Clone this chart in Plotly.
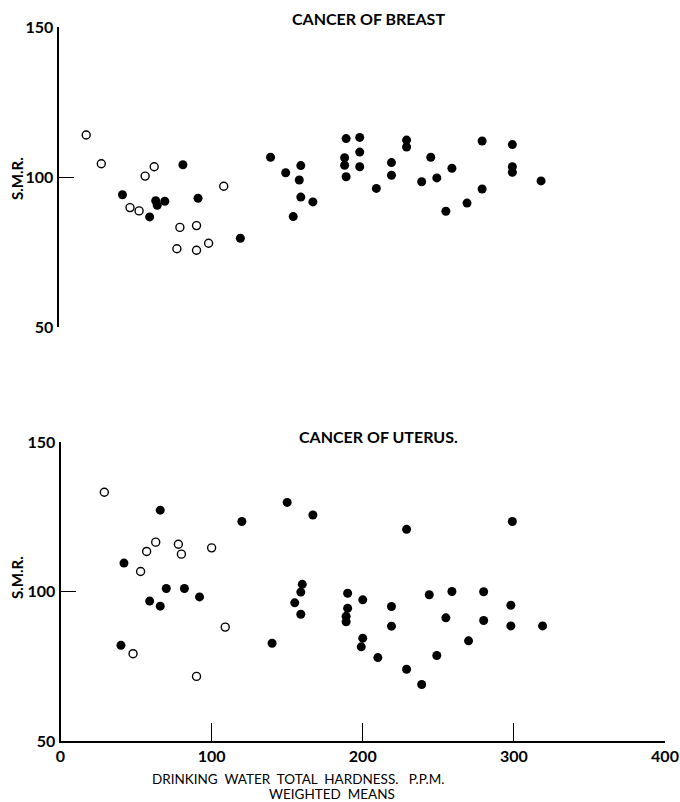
import plotly.graph_objects as go

# ---- data: Cancer of breast ----
breast_open_x = [17, 27, 56, 62, 46, 52, 79, 90, 77, 90, 98, 108]
breast_open_y = [114, 104.4, 100.3, 103.4, 89.8, 88.7, 83.2, 83.8, 76.1, 75.6, 77.9, 96.9]
breast_fill_x = [41, 59, 63, 64, 69, 81, 91, 119, 139, 149, 154, 159, 158, 159, 167,
                 189, 198, 198, 188, 188, 198, 189, 209, 219, 219, 229, 229, 245, 239,
                 249, 259, 255, 269, 279, 279, 299, 299, 299, 318]
breast_fill_y = [94.1, 86.7, 92.1, 90.6, 91.9, 104.1, 92.9, 79.6, 106.6, 101.4, 86.8, 103.8, 99, 93.3, 91.7,
                 112.8, 113.2, 108.3, 106.4, 103.9, 103.4, 100.1, 96.2, 104.8, 100.6, 112.3, 110, 106.6, 98.4,
                 99.7, 102.9, 88.6, 91.3, 112, 96, 110.8, 103.4, 101.6, 98.7]

# ---- data: Cancer of uterus ----
uterus_open_x = [29, 57, 63, 53, 78, 80, 100, 109, 48, 90]
uterus_open_y = [133.2, 113.4, 116.5, 106.7, 115.8, 112.5, 114.6, 88.1, 79.2, 71.6]
uterus_fill_x = [66, 42, 59, 66, 70, 82, 92, 40, 120, 140, 150, 167, 160, 159, 155, 159,
                 190, 190, 189, 189, 200, 200, 199, 210, 219, 219, 229, 229, 239, 244,
                 249, 255, 259, 270, 280, 280, 299, 298, 298, 319]
uterus_fill_y = [127.2, 109.5, 96.8, 95.1, 101, 101, 98.2, 82, 123.4, 82.7, 129.8, 125.6, 102.4, 99.8, 96.2, 92.4,
                 99.4, 94.4, 91.7, 89.9, 97.2, 84.4, 81.5, 77.9, 95, 88.4, 120.8, 74, 68.9, 98.9,
                 78.6, 91.2, 100, 83.5, 99.9, 90.3, 123.4, 95.4, 88.5, 88.5]

x_ticks = [0, 100, 200, 300, 400]
y_ticks = [50, 100, 150]

W, H = 680, 802
FONT = "Lato"

fig = go.Figure()

def add(xs, ys, filled, xa, ya):
    if filled:
        m = dict(size=9, color="black", line=dict(width=0))
    else:
        m = dict(size=8, color="white", line=dict(width=1.4, color="black"))
    fig.add_trace(go.Scatter(x=xs, y=ys, mode="markers", marker=m,
                             xaxis=xa, yaxis=ya, showlegend=False, hoverinfo="skip"))

add(breast_open_x, breast_open_y, False, "x", "y")
add(breast_fill_x, breast_fill_y, True, "x", "y")
add(uterus_open_x, uterus_open_y, False, "x2", "y2")
add(uterus_fill_x, uterus_fill_y, True, "x2", "y2")

xdom = [60.5 / W, 665 / W]
tickfont = dict(family=FONT, size=16, color="black", weight="bold")
common = dict(automargin=False, showgrid=False, zeroline=False, tickcolor="black",
              tickwidth=1.3, showline=True, linecolor="black", linewidth=1.8,
              tickfont=tickfont)

fig.update_layout(
    width=W, height=H,
    margin=dict(l=0, r=0, t=0, b=0, pad=0),
    paper_bgcolor="white", plot_bgcolor="white",
    font=dict(family=FONT, color="black"),
    xaxis=dict(domain=xdom, range=[0, 400], visible=False, anchor="y", automargin=False),
    yaxis=dict(domain=[1 - 327 / H, 1 - 27 / H], range=[50, 150], anchor="free",
               position=57.5 / W, tickvals=y_ticks, ticks="inside", ticklen=16, **common),
    xaxis2=dict(domain=xdom, range=[0, 400], anchor="y2", tickvals=x_ticks,
                ticks="inside", ticklen=18, **common),
    yaxis2=dict(domain=[1 - 741 / H, 1 - 442 / H], range=[50, 150], anchor="x2",
                tickvals=y_ticks, ticks="inside", ticklen=16, **common),
)

title_font = dict(family=FONT, size=16, color="black", weight="bold")
smr_font = dict(family=FONT, size=15, color="black", weight="bold")
axis_font = dict(family=FONT, size=13.5, color="black")
anns = [
    dict(text="CANCER OF BREAST", x=368 / W, y=1 - 18 / H, font=title_font),
    dict(text="CANCER OF UTERUS.", x=378 / W, y=1 - 436 / H, font=title_font),
    dict(text="S.M.R.", x=17 / W, y=1 - 179 / H, textangle=-90, font=smr_font),
    dict(text="S.M.R.", x=17 / W, y=1 - 578 / H, textangle=-90, font=smr_font),
    dict(text="DRINKING  WATER  TOTAL  HARDNESS.   P.P.M.", x=298 / W, y=1 - 779 / H,
         font=axis_font),
    dict(text="WEIGHTED  MEANS", x=332 / W, y=1 - 794 / H, font=axis_font),
]
for a in anns:
    fig.add_annotation(xref="paper", yref="paper", showarrow=False,
                       xanchor="center", yanchor="middle", **a)

fig.write_html("out.html")
